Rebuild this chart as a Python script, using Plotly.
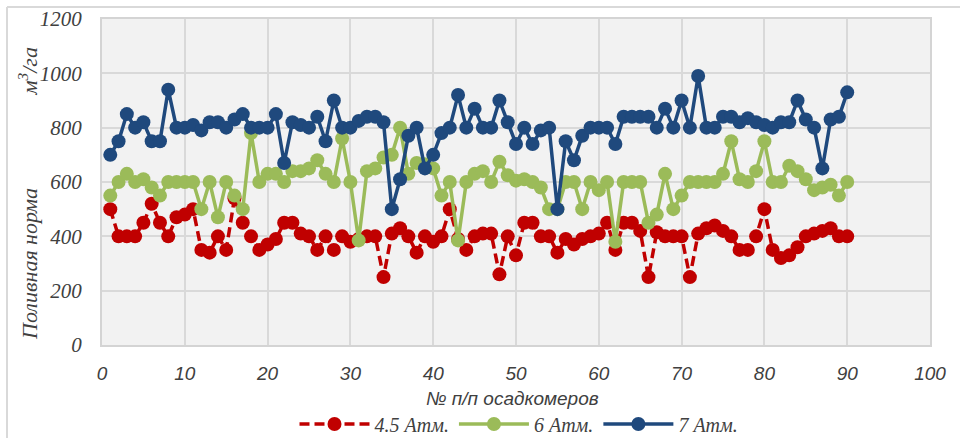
import plotly.graph_objects as go

# ---- data ----
osadkomer = list(range(1, 91))

atm_4_5 = [500, 400, 400, 400, 450, 520, 450, 400, 470, 480,
           500, 350, 340, 400, 350, 540, 450, 400, 350, 370,
           390, 450, 450, 410, 400, 350, 400, 350, 400, 380,
           390, 400, 400, 250, 410, 430, 400, 340, 400, 380,
           400, 500, 390, 350, 400, 410, 410, 260, 400, 330,
           450, 450, 400, 400, 340, 390, 370, 390, 400, 410,
           450, 350, 450, 450, 420, 250, 415, 400, 400, 400,
           250, 410, 430, 440, 420, 400, 350, 350, 400, 500,
           350, 320, 330, 360, 400, 410, 420, 430, 400, 400]

atm_6 = [550, 600, 630, 600, 610, 580, 550, 600, 600, 600,
         600, 500, 600, 470, 600, 550, 500, 780, 600, 630,
         630, 600, 640, 640, 650, 680, 630, 600, 760, 600,
         385, 640, 650, 690, 700, 800, 630, 670, 665, 650,
         550, 600, 385, 600, 630, 640, 600, 675, 625, 605,
         610, 600, 580, 500, 500, 600, 600, 500, 600, 570,
         600, 380, 600, 600, 600, 450, 480, 630, 500, 550,
         600, 600, 600, 600, 630, 750, 610, 600, 640, 750,
         600, 600, 660, 640, 610, 570, 580, 590, 550, 600]

atm_7 = [700, 750, 850, 800, 820, 750, 750, 940, 800, 800,
         810, 790, 820, 820, 800, 830, 850, 800, 800, 800,
         850, 670, 820, 810, 800, 840, 750, 900, 800, 800,
         825, 840, 840, 820, 500, 610, 770, 800, 650, 700,
         780, 800, 920, 800, 870, 800, 800, 900, 820, 740,
         800, 740, 790, 800, 500, 750, 680, 770, 800, 800,
         800, 740, 840, 840, 840, 840, 800, 870, 800, 900,
         800, 990, 800, 800, 840, 840, 820, 835, 820, 810,
         800, 820, 820, 900, 830, 800, 650, 830, 840, 930]

series_names = ["4.5 Атм.", "6 Атм.", "7 Атм."]
x_ticks = [0, 10, 20, 30, 40, 50, 60, 70, 80, 90, 100]
y_ticks = [0, 200, 400, 600, 800, 1000, 1200]

# ---- layout geometry ----
W, H = 960, 438
L, R, T, B = 102, 30, 19, 93
PW, PH = W - L - R, H - T - B


def px_x(px):
    return (px - L) / PW


def px_y(py):
    return (H - B - py) / PH


serif = "Liberation Serif"
sans = "Liberation Sans"

fig = go.Figure()
fig.add_trace(go.Scatter(
    x=osadkomer, y=atm_4_5, mode="lines+markers", name=series_names[0],
    line=dict(color="#c00000", width=3.5, dash="10px,5px"),
    marker=dict(size=14, color="#c00000")))
fig.add_trace(go.Scatter(
    x=osadkomer, y=atm_6, mode="lines+markers", name=series_names[1],
    line=dict(color="#9bbb59", width=3.5),
    marker=dict(size=14, color="#9bbb59")))
fig.add_trace(go.Scatter(
    x=osadkomer, y=atm_7, mode="lines+markers", name=series_names[2],
    line=dict(color="#1f497d", width=3.5),
    marker=dict(size=14, color="#1f497d")))

fig.update_layout(
    width=W, height=H,
    margin=dict(l=L, r=R, t=T, b=B, pad=0, autoexpand=False),
    paper_bgcolor="white",
    plot_bgcolor="#f2f2f2",
    showlegend=True,
    legend=dict(orientation="h", xref="container", yref="container",
                x=519 / W, xanchor="center",
                y=(H - 424) / H, yanchor="middle",
                font=dict(family=serif, size=20, color="#404040", style="italic"),
                itemwidth=70, bgcolor="rgba(0,0,0,0)"),
    xaxis=dict(range=[0, 100], tickvals=x_ticks, showgrid=True,
               gridcolor="#d9d9d9", gridwidth=2, zeroline=False,
               showline=True, linecolor="#d4d4d4", linewidth=2, mirror=True,
               ticks="outside", ticklen=10, tickcolor="rgba(0,0,0,0)",
               tickfont=dict(family=sans, size=19, color="#404040", style="italic")),
    yaxis=dict(range=[0, 1200], tickvals=y_ticks, showgrid=True,
               gridcolor="#d9d9d9", gridwidth=2, zeroline=False,
               showline=True, linecolor="#d4d4d4", linewidth=2, mirror=True,
               ticks="outside", ticklen=14, tickcolor="rgba(0,0,0,0)",
               tickfont=dict(family=serif, size=21, color="#404040", style="italic")),
    annotations=[
        dict(text="Поливная норма" + "\u00a0" * 17 + "м<sup>3</sup>/га",
             textangle=-90, xref="paper", yref="paper",
             x=px_x(28), y=px_y(194), xanchor="center", yanchor="middle",
             showarrow=False,
             font=dict(family=serif, size=22, color="#404040", style="italic")),
        dict(text="№ п/п осадкомеров", xref="paper", yref="paper",
             x=px_x(512), y=px_y(398), xanchor="center", yanchor="middle",
             showarrow=False,
             font=dict(family=sans, size=19, color="#404040", style="italic")),
    ],
    shapes=[
        dict(type="line", xref="paper", yref="paper",
             x0=px_x(7), y0=px_y(7), x1=px_x(962), y1=px_y(7),
             line=dict(color="#d9d9d9", width=2)),
        dict(type="line", xref="paper", yref="paper",
             x0=px_x(7), y0=px_y(7), x1=px_x(7), y1=px_y(440),
             line=dict(color="#d9d9d9", width=2)),
    ],
)

fig.write_html("out.html")
